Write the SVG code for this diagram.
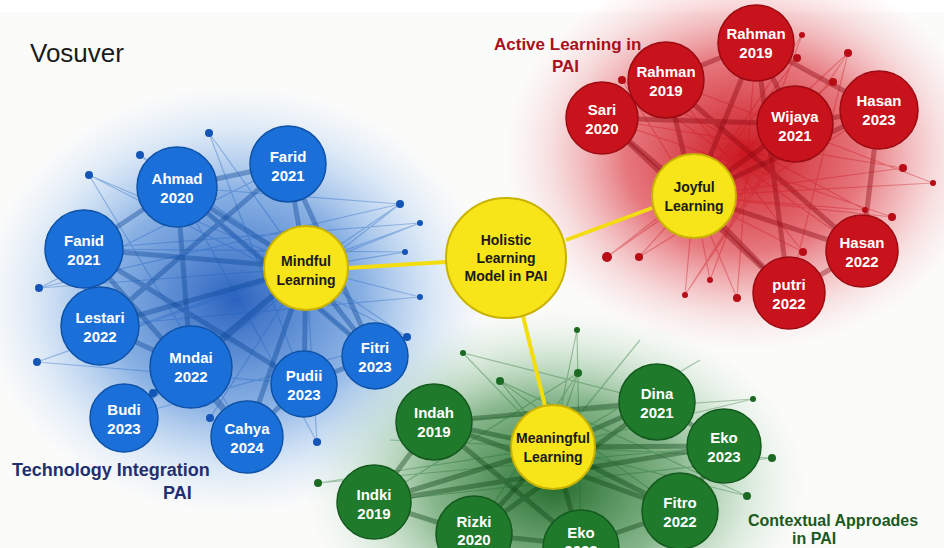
<svg xmlns="http://www.w3.org/2000/svg" width="944" height="548" viewBox="0 0 944 548">
<defs>
<radialGradient id="gBlue" cx="0.5" cy="0.5" r="0.5"><stop offset="0" stop-color="#1552b8" stop-opacity="0.9"/><stop offset="0.5" stop-color="#2a72d0" stop-opacity="0.55"/><stop offset="0.8" stop-color="#6aa6e8" stop-opacity="0.2"/><stop offset="1" stop-color="#9cc4f0" stop-opacity="0"/></radialGradient>
<radialGradient id="gRed" cx="0.5" cy="0.5" r="0.5"><stop offset="0" stop-color="#c80c16" stop-opacity="0.95"/><stop offset="0.5" stop-color="#d8202a" stop-opacity="0.6"/><stop offset="0.8" stop-color="#e86068" stop-opacity="0.2"/><stop offset="1" stop-color="#f4a0a6" stop-opacity="0"/></radialGradient>
<radialGradient id="gGreen" cx="0.5" cy="0.5" r="0.5"><stop offset="0" stop-color="#1a6422" stop-opacity="0.95"/><stop offset="0.5" stop-color="#2a8034" stop-opacity="0.55"/><stop offset="0.8" stop-color="#70b47a" stop-opacity="0.2"/><stop offset="1" stop-color="#a0d0a8" stop-opacity="0"/></radialGradient>
<style>
.blue{fill:#1b6fd8;stroke:#0e52a8;stroke-width:1.5}
.red{fill:#c8121c;stroke:#9c0a12;stroke-width:1.5}
.green{fill:#1f7a2c;stroke:#145a1e;stroke-width:1.5}
.hub{fill:#f7e51a;stroke:#c9b200;stroke-width:2}
.lbl{font-family:"Liberation Sans",Arial,sans-serif;font-weight:bold;font-size:15px;fill:#ffffff;text-anchor:middle}
.hl{font-family:"Liberation Sans",Arial,sans-serif;font-weight:bold;font-size:14px;fill:#1a1a1a;text-anchor:middle}
.cap{font-family:"Liberation Sans",Arial,sans-serif;font-weight:bold}
.bw{stroke:#0b4598;stroke-opacity:0.4;stroke-width:5;fill:none}
.bt{stroke:#1a5fc0;stroke-opacity:0.35;stroke-width:1.2;fill:none}
.rw{stroke:#8c060e;stroke-opacity:0.4;stroke-width:5;fill:none}
.rt{stroke:#c8101a;stroke-opacity:0.35;stroke-width:1.2;fill:none}
.gw{stroke:#0c4414;stroke-opacity:0.4;stroke-width:5;fill:none}
.gt{stroke:#1a6a24;stroke-opacity:0.35;stroke-width:1.2;fill:none}
.yl{stroke:#f3dd10;stroke-width:4;fill:none}
.db{fill:#1456b8}
.dr{fill:#b80c16}
.dg{fill:#1a6a24}
</style>
</defs>
<rect x="0" y="0" width="944" height="548" fill="#ffffff"/>
<rect x="0" y="12" width="944" height="536" fill="#fbfbfa"/>
<g id="haze">
<ellipse cx="235" cy="300" rx="255" ry="215" fill="url(#gBlue)"/>
<ellipse cx="745" cy="155" rx="240" ry="195" fill="url(#gRed)"/>
<ellipse cx="555" cy="485" rx="250" ry="175" fill="url(#gGreen)"/>
</g>
<g id="connectors">
<path class="bw" d="M306 268L288 164M306 268L177 187M306 268L84 249M306 268L100 326M306 268L191 367M306 268L124 418M306 268L247 437M306 268L304 384M306 268L375 356"/>
<path class="bw" d="M288 164L177 187M177 187L84 249M84 249L100 326M100 326L191 367M191 367L124 418M191 367L247 437M247 437L304 384M304 384L375 356M177 187L191 367M84 249L304 384M288 164L100 326M288 164L375 356M177 187L375 356M84 249L247 437"/>
<path class="bt" d="M306 268L209 133M306 268L140 155M306 268L89 175M306 268L39 288M306 268L37 362M306 268L153 393M306 268L210 418M306 268L317 442M306 268L400 204M306 268L420 223M306 268L405 252M306 268L420 297M306 268L407 337M177 187L400 204M84 249L420 223M100 326L420 297M124 418L407 337M288 164L39 288M191 367L400 204M247 437L89 175M375 356L140 155M304 384L37 362M177 187L317 442M84 249L405 252M209 133L304 384M140 155L375 356M89 175L407 337M39 288L400 204M37 362L420 223"/>
<g class="db"><circle cx="209" cy="133" r="4"/><circle cx="140" cy="155" r="4"/><circle cx="89" cy="175" r="4"/><circle cx="39" cy="288" r="4"/><circle cx="37" cy="362" r="4"/><circle cx="153" cy="393" r="4"/><circle cx="210" cy="418" r="4"/><circle cx="317" cy="442" r="4"/><circle cx="400" cy="204" r="4"/><circle cx="420" cy="223" r="3"/><circle cx="405" cy="252" r="3"/><circle cx="420" cy="297" r="3"/><circle cx="407" cy="337" r="4"/><circle cx="318" cy="442" r="3"/></g>
<path class="rw" d="M694 196L756 43M694 196L666 80M694 196L602 118M694 196L795 124M694 196L879 110M694 196L862 251M694 196L789 293"/>
<path class="rw" d="M602 118L666 80M666 80L756 43M756 43L795 124M795 124L879 110M879 110L862 251M862 251L789 293M602 118L789 293M666 80L862 251M756 43L879 110M602 118L795 124M756 43L789 293"/>
<path class="rt" d="M694 196L802 35M694 196L848 53M694 196L797 58M694 196L833 82M694 196L622 80M694 196L903 168M694 196L933 183M694 196L607 257M694 196L639 257M694 196L737 298M694 196L892 217M694 196L865 210M694 196L803 252M694 196L710 280M694 196L685 295M602 118L903 168M666 80L933 183M756 43L737 298M795 124L607 257M879 110L639 257M862 251L622 80M789 293L848 53M602 118L892 217M666 80L803 252M795 124L685 295M802 35L710 280M833 82L607 257M622 80L865 210M848 53L685 295"/>
<g class="dr"><circle cx="802" cy="35" r="3"/><circle cx="848" cy="53" r="4"/><circle cx="797" cy="58" r="4"/><circle cx="833" cy="82" r="4"/><circle cx="622" cy="80" r="4"/><circle cx="903" cy="168" r="4"/><circle cx="933" cy="183" r="3"/><circle cx="607" cy="257" r="5"/><circle cx="639" cy="257" r="4"/><circle cx="737" cy="298" r="4"/><circle cx="892" cy="217" r="4"/><circle cx="865" cy="210" r="3"/><circle cx="803" cy="252" r="4"/><circle cx="710" cy="280" r="3"/><circle cx="685" cy="295" r="3"/></g>
<path class="gw" d="M553 447L434 422M553 447L374 502M553 447L474 534M553 447L581 545M553 447L680 511M553 447L657 402M553 447L724 446"/>
<path class="gw" d="M434 422L374 502M374 502L474 534M474 534L581 545M581 545L680 511M680 511L724 446M724 446L657 402M434 422L657 402M434 422L680 511M657 402L474 534M374 502L724 446M434 422L581 545"/>
<path class="gt" d="M553 447L500 381M553 447L578 373M553 447L318 483M553 447L753 399M553 447L772 458M553 447L747 496M553 447L463 353M553 447L577 330M553 447L640 340M553 447L700 360M553 447L390 440M434 422L753 399M374 502L772 458M474 534L578 373M680 511L500 381M724 446L318 483M657 402L463 353M581 545L577 330M500 381L747 496M578 373L374 502"/>
<g class="dg"><circle cx="500" cy="381" r="4"/><circle cx="578" cy="373" r="4"/><circle cx="318" cy="483" r="4"/><circle cx="753" cy="399" r="3"/><circle cx="772" cy="458" r="4"/><circle cx="747" cy="496" r="4"/><circle cx="463" cy="353" r="3"/><circle cx="577" cy="330" r="3"/></g>
<path class="yl" d="M446 262L348 268M566 240L652 208M523 316L545 406"/>
</g>
<g id="n-holistic"><circle class="hub" cx="506" cy="258" r="60"/><text class="hl" x="506" y="245">Holistic</text><text class="hl" x="506" y="263">Learning</text><text class="hl" x="506" y="281">Model in PAI</text></g>
<g id="n-mindful"><circle class="hub" cx="306" cy="268" r="42"/><text class="hl" x="306" y="266">Mindful</text><text class="hl" x="306" y="285">Learning</text></g>
<g id="n-joyful"><circle class="hub" cx="694" cy="196" r="42"/><text class="hl" x="694" y="192">Joyful</text><text class="hl" x="694" y="211">Learning</text></g>
<g id="n-meaningful"><circle class="hub" cx="553" cy="447" r="42"/><text class="hl" x="553" y="443">Meaningful</text><text class="hl" x="553" y="462">Learning</text></g>
<g id="n-farid-top"><circle class="blue" cx="288" cy="164" r="38"/><text class="lbl" x="288" y="162">Farid</text><text class="lbl" x="288" y="181">2021</text></g>
<g id="n-ahmad"><circle class="blue" cx="177" cy="187" r="40"/><text class="lbl" x="177" y="184">Ahmad</text><text class="lbl" x="177" y="203">2020</text></g>
<g id="n-fanid"><circle class="blue" cx="84" cy="249" r="39"/><text class="lbl" x="84" y="246">Fanid</text><text class="lbl" x="84" y="265">2021</text></g>
<g id="n-lestari"><circle class="blue" cx="100" cy="326" r="39"/><text class="lbl" x="100" y="323">Lestari</text><text class="lbl" x="100" y="342">2022</text></g>
<g id="n-mndai"><circle class="blue" cx="191" cy="367" r="41"/><text class="lbl" x="191" y="363">Mndai</text><text class="lbl" x="191" y="382">2022</text></g>
<g id="n-budi"><circle class="blue" cx="124" cy="418" r="34"/><text class="lbl" x="124" y="415">Budi</text><text class="lbl" x="124" y="434">2023</text></g>
<g id="n-cahya"><circle class="blue" cx="247" cy="437" r="36"/><text class="lbl" x="247" y="434">Cahya</text><text class="lbl" x="247" y="453">2024</text></g>
<g id="n-pudii"><circle class="blue" cx="304" cy="384" r="33"/><text class="lbl" x="304" y="381">Pudii</text><text class="lbl" x="304" y="400">2023</text></g>
<g id="n-fitri"><circle class="blue" cx="375" cy="356" r="33"/><text class="lbl" x="375" y="353">Fitri</text><text class="lbl" x="375" y="372">2023</text></g>
<g id="n-rahman-top"><circle class="red" cx="756" cy="43" r="38"/><text class="lbl" x="756" y="39">Rahman</text><text class="lbl" x="756" y="58">2019</text></g>
<g id="n-rahman"><circle class="red" cx="666" cy="80" r="38"/><text class="lbl" x="666" y="77">Rahman</text><text class="lbl" x="666" y="96">2019</text></g>
<g id="n-sari"><circle class="red" cx="602" cy="118" r="36"/><text class="lbl" x="602" y="115">Sari</text><text class="lbl" x="602" y="134">2020</text></g>
<g id="n-wijaya"><circle class="red" cx="795" cy="124" r="38"/><text class="lbl" x="795" y="122">Wijaya</text><text class="lbl" x="795" y="141">2021</text></g>
<g id="n-hasan2023"><circle class="red" cx="879" cy="110" r="39"/><text class="lbl" x="879" y="106">Hasan</text><text class="lbl" x="879" y="125">2023</text></g>
<g id="n-hasan2022"><circle class="red" cx="862" cy="251" r="36"/><text class="lbl" x="862" y="248">Hasan</text><text class="lbl" x="862" y="267">2022</text></g>
<g id="n-putri"><circle class="red" cx="789" cy="293" r="36"/><text class="lbl" x="789" y="290">putri</text><text class="lbl" x="789" y="309">2022</text></g>
<g id="n-indah"><circle class="green" cx="434" cy="422" r="38"/><text class="lbl" x="434" y="418">Indah</text><text class="lbl" x="434" y="437">2019</text></g>
<g id="n-indki"><circle class="green" cx="374" cy="502" r="37"/><text class="lbl" x="374" y="500">Indki</text><text class="lbl" x="374" y="519">2019</text></g>
<g id="n-rizki"><circle class="green" cx="474" cy="534" r="38"/><text class="lbl" x="474" y="527">Rizki</text><text class="lbl" x="474" y="545">2020</text></g>
<g id="n-eko-bottom"><circle class="green" cx="581" cy="548" r="38"/><text class="lbl" x="581" y="538">Eko</text><text class="lbl" x="581" y="556">2023</text></g>
<g id="n-fitro"><circle class="green" cx="680" cy="511" r="38"/><text class="lbl" x="680" y="508">Fitro</text><text class="lbl" x="680" y="527">2022</text></g>
<g id="n-dina"><circle class="green" cx="657" cy="402" r="38"/><text class="lbl" x="657" y="399">Dina</text><text class="lbl" x="657" y="418">2021</text></g>
<g id="n-eko"><circle class="green" cx="724" cy="446" r="37"/><text class="lbl" x="724" y="443">Eko</text><text class="lbl" x="724" y="462">2023</text></g>
<g id="labels">
<text x="30" y="62" font-family="'Liberation Sans',Arial,sans-serif" font-size="26" fill="#1a1a1a">Vosuver</text>
<text class="cap" x="12" y="476" font-size="18" fill="#1f2f70">Technology Integration</text>
<text class="cap" x="163" y="499" font-size="18" fill="#1f2f70">PAI</text>
<text class="cap" x="494" y="50" font-size="17" fill="#a8101c">Active Learning in</text>
<text class="cap" x="552" y="72" font-size="17" fill="#a8101c">PAI</text>
<text class="cap" x="748" y="526" font-size="16" fill="#1a5a20">Contextual Approades</text>
<text class="cap" x="792" y="544" font-size="16" fill="#1a5a20">in PAI</text>
</g>
</svg>
